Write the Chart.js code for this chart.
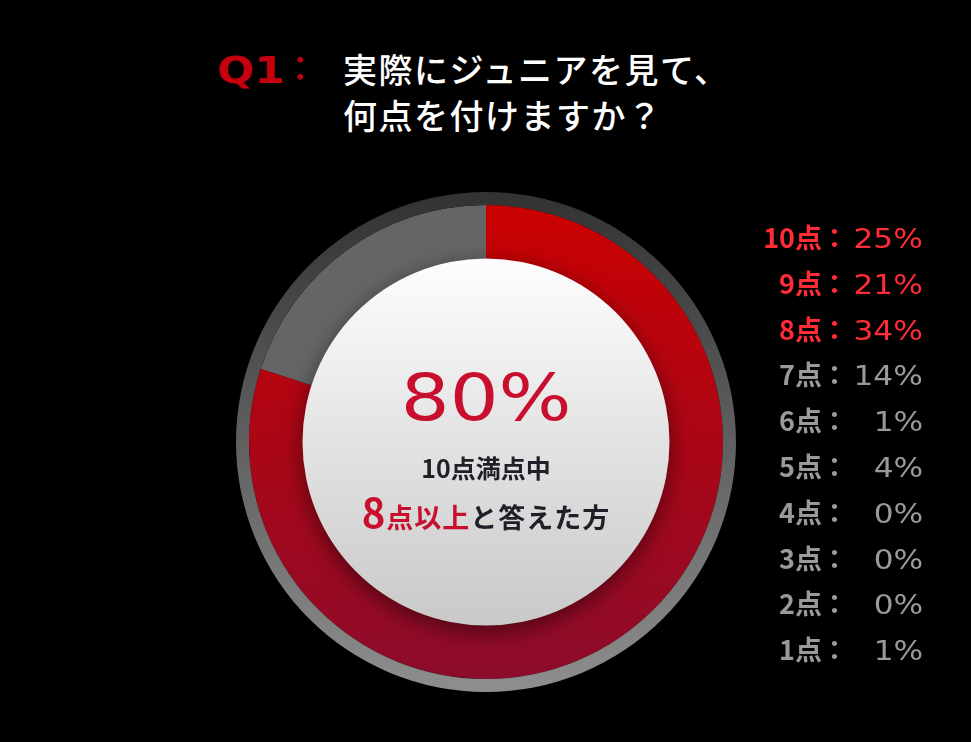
<!DOCTYPE html>
<html lang="ja">
<head>
<meta charset="utf-8">
<script src="https://cdn.jsdelivr.net/npm/chart.js@4"></script>
<style>
  html, body { margin: 0; padding: 0; background: #000; }
  body { width: 971px; height: 742px; position: relative; overflow: hidden;
         font-family: "Noto Sans CJK JP", "Noto Sans", sans-serif; }
  .wide { display: inline-block; font-family: "DejaVu Sans", sans-serif; transform: scaleX(1.2); }
  #title { position: absolute; left: 213px; top: 46px; color: #fff; font-size: 34px; font-weight: 500;
           letter-spacing: 1.5px; line-height: 46px; }
  #title .q { position: absolute; left: 4px; top: 1px; color: #c4000f; font-size: 38px; font-weight: bold;
              transform: scaleX(1.15); transform-origin: left center; letter-spacing: 0; }
  #title .c { position: absolute; left: 70px; top: -2px; color: #c4000f; }
  #title .t { margin-left: 130px; display: block; }
  #wrap { position: absolute; left: 236px; top: 192px; width: 500px; height: 500px; }
  #center { position: absolute; left: 236px; top: 192px; width: 500px; height: 500px; text-align: center;
            pointer-events: none; }
  #center .big { position: absolute; left: 0; width: 500px; top: 160px; color: #c8102e; font-size: 64px;
                 line-height: 80px; }
  #center .big span { transform: scaleX(1.2); }
  #center .l1 { position: absolute; left: 0; width: 500px; top: 257px; color: #1f1f27; font-size: 25px;
                font-weight: bold; line-height: 36px; }
  #center .l2 { position: absolute; left: 0; width: 500px; top: 297px; color: #1f1f27; font-size: 27px;
                font-weight: bold; line-height: 44px; letter-spacing: 1px; }
  #center .l2 .r { color: #c8102e; }
  #center .l2 .n { font-size: 40px; }
  #legend { position: absolute; left: 740px; top: 214px; width: 190px; }
  .row { height: 45.8px; line-height: 45.8px; position: relative; font-weight: bold; font-size: 27px; }
  .row .lab { position: absolute; right: 108px; }
  .row .col { position: absolute; left: 81px; }
  .row .val { position: absolute; right: 7px; font-weight: normal; font-size: 26px; }
  .row .val span { transform-origin: right center; }
</style>
</head>
<body>
<div id="title">
  <span class="q wide">Q1</span><span class="c">：</span>
  <span class="t">実際にジュニアを見て、<br>何点を付けますか？</span>
</div>
<div id="wrap"><canvas id="grafico"></canvas></div>
<div id="center">
  <div class="big"><span class="wide">80%</span></div>
  <div class="l1">10点満点中</div>
  <div class="l2"><span class="r"><span class="n">8</span>点以上</span>と答えた方</div>
</div>
<div id="legend"></div>
<script>
// 評価ごとの割合（%）
const categorias = ['10点', '9点', '8点', '7点', '6点', '5点', '4点', '3点', '2点', '1点'];
const porcentajes = [25, 21, 34, 14, 1, 4, 0, 0, 0, 1];
const destacados = 3; // 8点以上
const etiquetasAnillo = ['8点以上', '7点以下'];

(function () {
  const suma = arr => arr.reduce((a, b) => a + b, 0);
  const altos = suma(porcentajes.slice(0, destacados));
  const bajos = suma(porcentajes.slice(destacados));

  // leyenda
  const leyenda = document.getElementById('legend');
  categorias.forEach((cat, i) => {
    const row = document.createElement('div');
    row.className = 'row';
    row.style.color = i < destacados ? '#ff2b36' : '#9a9a9a';
    row.innerHTML = '<span class="lab">' + cat + '</span><span class="col">：</span>' +
      '<span class="val"><span class="wide">' + porcentajes[i] + '%</span></span>';
    leyenda.appendChild(row);
  });

  function degradado(ctx, area, top, bottom) {
    const g = ctx.createLinearGradient(0, area.top, 0, area.bottom);
    g.addColorStop(0, top);
    g.addColorStop(1, bottom);
    return g;
  }

  const circuloCentro = {
    id: 'circuloCentro',
    afterDatasetsDraw(chart) {
      const arc = chart.getDatasetMeta(1).data[0];
      if (!arc) return;
      const { x, y, innerRadius } = arc;
      const ctx = chart.ctx;
      ctx.save();
      ctx.shadowColor = 'rgba(0,0,0,0.5)';
      ctx.shadowBlur = 22;
      ctx.shadowOffsetY = 6;
      const g = ctx.createLinearGradient(0, y - innerRadius, 0, y + innerRadius);
      g.addColorStop(0, '#fdfdfd');
      g.addColorStop(1, '#c9c9c9');
      ctx.fillStyle = g;
      ctx.beginPath();
      ctx.arc(x, y, innerRadius + 1.5, 0, Math.PI * 2);
      ctx.fill();
      ctx.restore();
    }
  };

  const ctx = document.getElementById('grafico');
  new Chart(ctx, {
    type: 'doughnut',
    data: {
      labels: etiquetasAnillo,
      datasets: [{
        data: [100],
        weight: 13,
        borderWidth: 0,
        backgroundColor: c => c.chart.chartArea ? degradado(c.chart.ctx, c.chart.chartArea, '#323232', '#8e8e8e') : '#555'
      }, {
        data: [altos, bajos],
        weight: 55,
        borderWidth: 0,
        backgroundColor: c => {
          if (!c.chart.chartArea) return '#b00';
          return c.dataIndex === 0
            ? degradado(c.chart.ctx, c.chart.chartArea, '#cc0000', '#8a0c2c')
            : '#656565';
        }
      }]
    },
    options: {
      responsive: true,
      maintainAspectRatio: false,
      animation: false,
      events: [],
      cutout: '72.8%',
      layout: { padding: 0 },
      plugins: {
        legend: { display: false },
        tooltip: { enabled: false }
      }
    },
    plugins: [circuloCentro]
  });
})();
</script>
</body>
</html>
